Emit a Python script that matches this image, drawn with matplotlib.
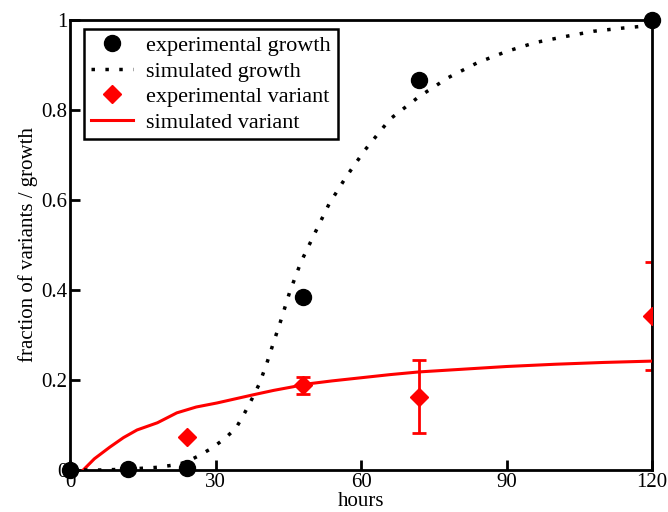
import numpy as np
import matplotlib
matplotlib.use("Agg")
import matplotlib.pyplot as plt

plt.rcParams['font.family'] = ['Liberation Serif', 'DejaVu Serif']

# experimental growth
exp_g_hours = [0, 12, 24, 48, 72, 120]
exp_g_frac = [0.0, 0.003, 0.005, 0.385, 0.867, 1.0]

# simulated growth
sim_g_hours = [0, 6, 12, 18, 22, 24, 26.4, 29.3, 32, 34.2, 36, 37.5, 39, 40.5, 42,
               43.3, 45.3, 47.6, 50.5, 53.4, 56.9, 60.8, 66, 72, 78, 84, 90, 96, 102, 108, 114, 120]
sim_g_frac = [0.0, 0.0, 0.002, 0.006, 0.012, 0.018, 0.031, 0.049, 0.071, 0.093, 0.127, 0.158, 0.191,
              0.235, 0.285, 0.327, 0.396, 0.462, 0.527, 0.591, 0.651, 0.711, 0.78, 0.83, 0.872,
              0.905, 0.93, 0.95, 0.963, 0.975, 0.982, 0.988]

# experimental variant with error
exp_v_hours = [24, 48, 72, 120]
exp_v_frac = [0.074, 0.188, 0.163, 0.342]
exp_v_err = [0.0, 0.019, 0.081, 0.12]

# simulated variant
sim_v_hours = [2.7, 5, 8.2, 11, 13.8, 18, 22, 26, 30.3, 34, 37.7, 42, 46, 48, 54, 60, 66, 72,
               81, 90, 100, 110, 120]
sim_v_frac = [0.0, 0.025, 0.051, 0.072, 0.089, 0.105, 0.127, 0.14, 0.149, 0.158, 0.167, 0.177,
              0.185, 0.19, 0.198, 0.205, 0.212, 0.218, 0.224, 0.23, 0.235, 0.239, 0.242]

fig = plt.figure(figsize=(6.68, 5.12), dpi=100)
ax = fig.add_axes([0.105, 0.082, 0.871, 0.879])

ax.errorbar(exp_v_hours, exp_v_frac, yerr=exp_v_err, fmt='none', ecolor='red',
            elinewidth=2, capsize=5, capthick=2, zorder=2)
ax.plot(sim_v_hours, sim_v_frac, color='red', lw=2.2, label='simulated variant', zorder=3)
ax.plot(sim_g_hours, sim_g_frac, color='black', lw=2.5, ls=(0, (1, 3)),
        dash_capstyle='butt', label='simulated growth', zorder=3)
ax.plot(exp_v_hours, exp_v_frac, 'D', color='red', ms=9, label='experimental variant', zorder=4)
ax.plot(exp_g_hours, exp_g_frac, 'o', color='black', ms=11.5, label='experimental growth',
        zorder=5, clip_on=False)

ax.set_xlim(0, 120)
ax.set_ylim(0, 1)
ax.set_xticks([0, 30, 60, 90, 120])
ax.set_yticks([0, 0.2, 0.4, 0.6, 0.8, 1])
ax.set_yticklabels(['0', '0.2', '0.4', '0.6', '0.8', '1'])
ax.tick_params(direction='in', length=7, width=2, labelsize=15, pad=2)
for s in ax.spines.values():
    s.set_linewidth(2)

ax.set_xlabel('hours', fontsize=15, labelpad=0)
ax.set_ylabel('fraction of variants / growth', fontsize=15, labelpad=2)

h, l = ax.get_legend_handles_labels()
order = [3, 1, 2, 0]
leg = ax.legend([h[i] for i in order], [l[i] for i in order], loc='upper left',
                bbox_to_anchor=(0.024, 0.98), fontsize=16, fancybox=False, framealpha=1,
                edgecolor='black', handlelength=1.9, labelspacing=0.22, borderpad=0.3,
                handletextpad=0.6, borderaxespad=0)
leg.get_frame().set_linewidth(1.8)

fig.savefig('out.png', dpi=100)
